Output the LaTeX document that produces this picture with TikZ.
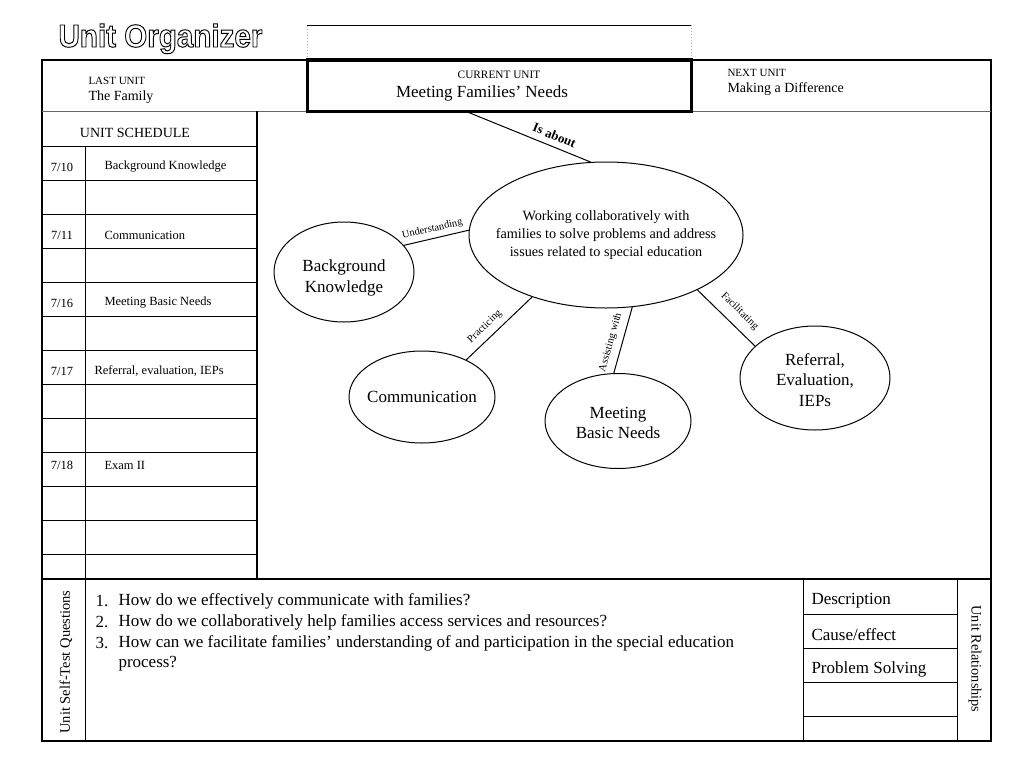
\documentclass[tikz,border=0pt]{standalone}
\usepackage{fontspec}
\setmainfont{Liberation Serif}
\newfontfamily\titlefont{Liberation Sans}
\usetikzlibrary{shapes.geometric, positioning}

\newcommand{\fs}[1]{\fontsize{#1}{#1}\selectfont}
\newcommand{\hollow}[1]{\special{pdf:literal direct 1 Tr 0.9 w}#1\special{pdf:literal direct 0 Tr}}

\begin{document}
\begin{tikzpicture}[x=1pt, y=-1pt, line width=1pt,
    bubble/.style={draw, ellipse, inner sep=0pt},
    bubtxt/.style={align=center, inner sep=0pt, font=\fontsize{17}{20.5}\selectfont},
    linklbl/.style={sloped, above=1pt, inner sep=1pt, font=\fs{10.5}},
    cell/.style={anchor=west, inner sep=0pt, font=\fs{12.5}},
    date/.style={inner sep=0pt, font=\fs{12.5}},
    big/.style={anchor=west, inner sep=0pt, font=\fs{17}}]
    \useasboundingbox (0,0) rectangle (1024,768);

    % heading
    \node[anchor=base west, inner sep=0pt, font=\titlefont\bfseries\fontsize{29.6}{30}\selectfont, yscale=1.08] (title) at (58,47) {\hollow{Unit Organizer}};
    \draw[gray!60, dotted] (307,60) -- (307,25) (691,25) -- (691,60);
    \draw[line width=0.8pt] (307,25) -- (691,25);

    % frame
    \draw[line width=2.5pt] (42,60) rectangle (991,741);
    \draw[gray!80!black] (42,111) -- (991,111);
    \draw[line width=1.5pt] (42,579) -- (991,579);
    \draw[line width=2pt] (257,111) -- (257,579);
    \node[draw, line width=3pt, minimum width=384pt, minimum height=51pt, inner sep=0pt] (cur) at (499,85.5) {};

    \node[anchor=west, inner sep=0pt, font=\fs{11}] (lastlbl) at (88,81) {LAST UNIT};
    \node[anchor=west, inner sep=0pt, font=\fs{14}] (last) at (88,97) {The Family};
    \node[inner sep=0pt, font=\fs{11.3}] (curlbl) at (499,75) {CURRENT UNIT};
    \node[inner sep=0pt, font=\fs{17}] (curname) at (482,93) {Meeting Families' Needs};
    \node[anchor=west, inner sep=0pt, font=\fs{11}] (nextlbl) at (727,73) {NEXT UNIT};
    \node[anchor=west, inner sep=0pt, font=\fs{14}] (next) at (727,89) {Making a Difference};

    % schedule
    \node[inner sep=0pt, font=\fs{14}] (sched) at (135,133) {UNIT SCHEDULE};
    \foreach \y in {146,180,...,554}
        \draw (42,\y) -- (257,\y);
    \draw (85,146) -- (85,579);
    \node[date] (d1) at (62,167) {7/10};
    \node[cell] (s1) at (104,167) {Background Knowledge};
    \node[date] (d2) at (62,235) {7/11};
    \node[cell] (s2) at (104,235) {Communication};
    \node[date] (d3) at (62,303) {7/16};
    \node[cell] (s3) at (104,303) {Meeting Basic Needs};
    \node[date] (d4) at (62,371) {7/17};
    \node[cell] (s4) at (94,371) {Referral, evaluation, IEPs};
    \node[date] (d5) at (62,465) {7/18};
    \node[cell] (s5) at (104,465) {Exam II};

    % concept map
    \node[bubble, minimum width=274pt, minimum height=146pt,
        label={[bubtxt, font=\fontsize{14.2}{17.7}\selectfont]center:Working collaboratively with\\families to solve problems and address\\issues related to special education}] (main) at (606,235) {};
    \node[bubble, minimum width=140pt, minimum height=100pt,
        label={[bubtxt, yshift=-6pt]center:Background\\Knowledge}] (bk) at (344,272) {};
    \node[bubble, minimum width=146pt, minimum height=92pt,
        label={[bubtxt]center:Communication}] (comm) at (422,397) {};
    \node[bubble, minimum width=146pt, minimum height=95pt,
        label={[bubtxt, yshift=-2pt]center:Meeting\\Basic Needs}] (needs) at (618,421) {};
    \node[bubble, minimum width=150pt, minimum height=104pt,
        label={[bubtxt, yshift=-2pt]center:Referral,\\Evaluation,\\IEPs}] (iep) at (815,378) {};

    \coordinate (isab) at (465,111);
    \draw (isab) -- node[linklbl, above=5pt, pos=0.68, font=\bfseries\fs{13}] {Is about} (main.102);
    \draw (bk.24) -- node[linklbl, above=3pt, pos=0.47] {Understanding} (main.178);
    \draw (comm.40) -- node[linklbl, above=5pt, pos=0.4] {Practicing} (main.220);
    \draw (needs.95) -- node[linklbl, above=5pt, pos=0.42] {Assisting with} (main.290);
    \draw (main.329) -- node[linklbl, above=8pt, pos=0.56] {Facilitating} (iep.152);

    % questions
    \draw (85,579) -- (85,741);
    \node[rotate=90, inner sep=0pt, font=\fs{14.5}] (stq) at (66,662) {Unit Self-Test Questions};
    \node[big] (n1) at (95,601) {1.};
    \node[big] (q1) at (118,601) {How do we effectively communicate with families?};
    \node[big] (n2) at (95,622) {2.};
    \node[big] (q2) at (118,622) {How do we collaboratively help families access services and resources?};
    \node[big] (n3) at (95,643) {3.};
    \node[big] (q3) at (118,643) {How can we facilitate families' understanding of and participation in the special education};
    \node[big] (q3b) at (118,664) {process?};

    % relationships
    \draw (803,579) -- (803,741) (957,579) -- (957,741);
    \foreach \y in {614,648,682,716}
        \draw (803,\y) -- (957,\y);
    \node[big] (r1) at (811,601) {Description};
    \node[big] (r2) at (811,635) {Cause/effect};
    \node[big] (r3) at (811,669) {Problem Solving};
    \node[rotate=-90, inner sep=0pt, font=\fs{14.3}] (urel) at (975,659) {Unit Relationships};
\end{tikzpicture}
\end{document}
